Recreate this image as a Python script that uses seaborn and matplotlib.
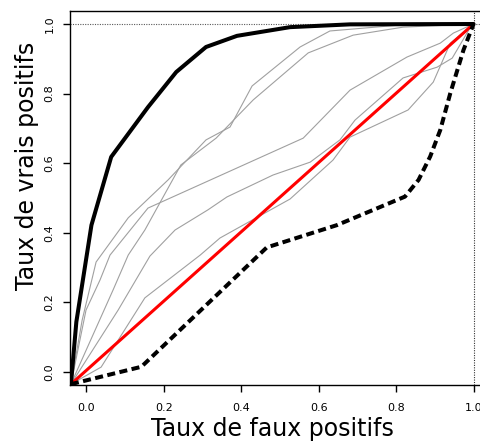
import numpy as np
import pandas as pd
import matplotlib
matplotlib.use("Agg")
import matplotlib.pyplot as plt
import seaborn as sns

# ROC curves: false positive rate (x) vs true positive rate (y)
best_fpr = [-0.04, -0.026, 0.013, 0.064, 0.159, 0.232, 0.309, 0.389, 0.526, 0.681, 1.0]
best_tpr = [-0.035, 0.144, 0.422, 0.618, 0.761, 0.862, 0.934, 0.966, 0.991, 0.999, 1.0]

worst_fpr = [-0.04, 0.142, 0.466, 0.647, 0.823, 0.858, 0.888, 0.914, 0.940, 0.974, 1.0]
worst_tpr = [-0.035, 0.015, 0.358, 0.422, 0.504, 0.552, 0.619, 0.695, 0.801, 0.925, 1.0]

chance_fpr = [-0.04, 1.0]
chance_tpr = [-0.035, 1.0]

model_a_fpr = [-0.04, -0.011, 0.025, 0.108, 0.211, 0.309, 0.371, 0.428, 0.552, 0.629, 0.810, 1.0]
model_a_tpr = [-0.035, 0.149, 0.316, 0.443, 0.552, 0.667, 0.704, 0.822, 0.934, 0.980, 0.997, 1.0]

model_b_fpr = [-0.04, 0.069, 0.108, 0.151, 0.244, 0.335, 0.431, 0.573, 0.689, 0.818, 1.0]
model_b_tpr = [-0.035, 0.236, 0.336, 0.408, 0.595, 0.672, 0.782, 0.917, 0.968, 0.991, 1.0]

model_c_fpr = [-0.04, -0.001, 0.035, 0.061, 0.159, 0.560, 0.681, 0.828, 0.914, 0.948, 1.0]
model_c_tpr = [-0.035, 0.178, 0.264, 0.336, 0.471, 0.672, 0.810, 0.905, 0.945, 0.974, 1.0]

model_d_fpr = [-0.04, 0.082, 0.164, 0.229, 0.314, 0.363, 0.482, 0.578, 0.655, 0.694, 0.818, 0.906, 0.945, 0.991, 1.0]
model_d_tpr = [-0.035, 0.178, 0.333, 0.408, 0.466, 0.503, 0.566, 0.603, 0.667, 0.724, 0.845, 0.876, 0.902, 0.989, 1.0]

model_e_fpr = [-0.04, 0.038, 0.151, 0.294, 0.345, 0.526, 0.637, 0.681, 0.831, 0.896, 0.940, 1.0]
model_e_tpr = [-0.035, 0.014, 0.213, 0.336, 0.385, 0.497, 0.609, 0.675, 0.753, 0.833, 0.945, 1.0]

tick_values = [0.0, 0.2, 0.4, 0.6, 0.8, 1.0]
tick_labels = ["0.0", "0.2", "0.4", "0.6", "0.8", "1.0"]

sns.set_style("ticks")
plt.rcParams["font.family"] = ["DejaVu Sans"]
plt.rcParams["text.color"] = "black"
plt.rcParams["axes.labelcolor"] = "black"

fig = plt.figure(figsize=(4.8, 4.44), dpi=100)
W, H = 480, 444
left, right, top, bottom = 70, 489, 11, 385
ax = fig.add_axes([left / W, 1 - bottom / H, (right - left) / W, (bottom - top) / H])

def draw(xs, ys, **kw):
    df = pd.DataFrame({"fpr": xs, "tpr": ys})
    sns.lineplot(data=df, x="fpr", y="tpr", sort=False, estimator=None, ax=ax, **kw)

for xs, ys in [(model_a_fpr, model_a_tpr), (model_b_fpr, model_b_tpr),
               (model_c_fpr, model_c_tpr), (model_d_fpr, model_d_tpr),
               (model_e_fpr, model_e_tpr)]:
    draw(xs, ys, color="#a0a0a0", linewidth=0.8)

draw(chance_fpr, chance_tpr, color="#ff0000", linewidth=2.2)
draw(best_fpr, best_tpr, color="black", linewidth=2.9)
draw(worst_fpr, worst_tpr, color="black", linewidth=2.9, dashes=(2.0, 1.1))

# reference lines at perfect rates
ax.axhline(1.0, color="0.35", linewidth=0.8, linestyle=(0, (1, 1.2)), zorder=1)
ax.axvline(1.0, color="0.2", linewidth=0.8, linestyle=(0, (1, 1.2)), zorder=1)

ax.set_xlim(-0.0424, 1.04)
ax.set_ylim(-0.0374, 1.0374)

for s in ax.spines.values():
    s.set_visible(True)
    s.set_linewidth(1.0)
    s.set_color("black")

ax.set_xticks(tick_values)
ax.set_xticklabels(tick_labels)
ax.set_yticks(tick_values)
ax.set_yticklabels(tick_labels, rotation=90, va="center")
ax.tick_params(axis="both", direction="out", length=5, width=1.0, labelsize=8,
               colors="black", labelcolor="black")
ax.tick_params(axis="x", pad=8)
ax.tick_params(axis="y", pad=6)

ax.set_xlabel("Taux de faux positifs", fontsize=17, color="black")
ax.set_ylabel("Taux de vrais positifs", fontsize=17, color="black")
ax.xaxis.set_label_coords(0.482, -0.085)
ax.yaxis.set_label_coords(-0.075, 0.586)

fig.savefig("out.png", dpi=100)
